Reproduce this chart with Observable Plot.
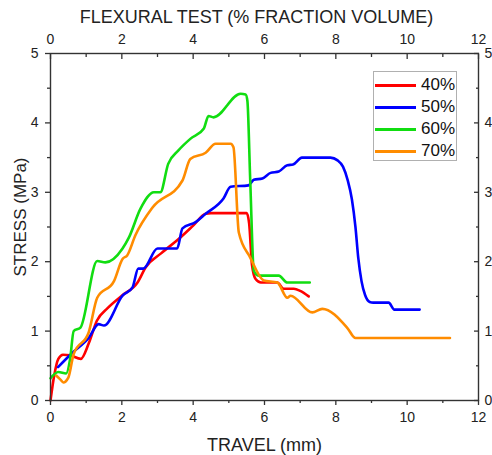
<!DOCTYPE html>
<html>
<head>
<meta charset="utf-8">
<script src="https://cdn.jsdelivr.net/npm/d3@7"></script>
<script src="https://cdn.jsdelivr.net/npm/@observablehq/plot@0.6"></script>
<style>
  html, body { margin: 0; padding: 0; background: #fff; }
  #wrap { position: relative; width: 492px; height: 455px; font-family: "Liberation Sans", Arial, sans-serif; }
  #legend { position: absolute; left: 373px; top: 71px; width: 84px; height: 90px; border: 1px solid #b0b0b0; background: #fff; box-sizing: border-box; }
  .row { position: absolute; left: 0; height: 22px; display: flex; align-items: center; font-size: 17px; color: #111; }
  .row .sw { width: 41px; height: 3px; margin-left: 1px; margin-right: 5px; }
</style>
</head>
<body>
<div id="wrap"><div id="legend"></div></div>
<script>
const seriesNames = ["40%", "50%", "60%", "70%"];
const seriesColors = ["#ff0000", "#0000ff", "#11dd11", "#ff8c00"];

const x40 = [0, 0.1, 0.22, 0.35, 0.55, 0.85, 1.07, 1.3, 1.6, 2.0, 2.44, 2.67, 3.1, 3.6, 4.0, 4.35, 4.5, 5.5, 5.57, 5.65, 5.75, 5.9, 6.36, 6.54, 6.82, 7.0, 7.24];
const y40 = [0, 0.35, 0.6, 0.66, 0.65, 0.6, 0.82, 1.15, 1.33, 1.51, 1.7, 1.92, 2.12, 2.33, 2.52, 2.69, 2.7, 2.7, 2.55, 1.95, 1.75, 1.7, 1.7, 1.61, 1.61, 1.58, 1.5];

const x50 = [0.21, 0.6, 1.07, 1.35, 1.5, 2.02, 2.3, 2.46, 2.6, 3.0, 3.55, 3.7, 4.07, 4.35, 4.85, 5.05, 5.55, 5.7, 5.94, 6.17, 6.4, 6.64, 6.8, 7.05, 7.85, 8.05, 8.2, 8.33, 8.45, 8.55, 8.63, 8.72, 8.82, 8.95, 9.05, 9.48, 9.64, 10.35];
const y50 = [0.48, 0.68, 0.9, 1.1, 1.08, 1.51, 1.63, 1.9, 1.9, 2.19, 2.19, 2.48, 2.57, 2.69, 2.91, 3.08, 3.1, 3.18, 3.2, 3.28, 3.3, 3.39, 3.4, 3.5, 3.5, 3.46, 3.37, 3.18, 2.9, 2.5, 2.05, 1.72, 1.52, 1.42, 1.41, 1.41, 1.31, 1.31];

const x60 = [0, 0.22, 0.44, 0.55, 0.65, 0.84, 1.31, 1.54, 2.02, 2.2, 2.52, 2.9, 3.08, 3.3, 3.58, 3.92, 4.3, 4.43, 4.57, 5.33, 5.47, 5.52, 5.6, 5.7, 5.83, 6.4, 6.64, 7.27];
const y60 = [0.32, 0.41, 0.39, 0.6, 1.0, 1.05, 2.01, 1.99, 2.19, 2.35, 2.76, 3.0, 3.0, 3.41, 3.6, 3.77, 3.92, 4.1, 4.08, 4.42, 4.41, 4.32, 3.17, 1.87, 1.8, 1.8, 1.7, 1.7];

const x70 = [0.16, 0.28, 0.36, 0.5, 0.65, 1.07, 1.31, 1.78, 2.02, 2.15, 2.38, 2.86, 3.7, 3.92, 4.35, 4.63, 5.05, 5.13, 5.28, 5.6, 5.98, 6.36, 6.64, 6.73, 7.34, 7.62, 8.33, 8.55, 11.2];
const y70 = [0.36, 0.3, 0.26, 0.33, 0.67, 0.98, 1.48, 1.72, 2.04, 2.09, 2.38, 2.78, 3.17, 3.48, 3.57, 3.7, 3.7, 3.65, 2.42, 2.06, 1.73, 1.7, 1.48, 1.51, 1.27, 1.32, 1.04, 0.9, 0.9];

const xMajor = [0, 2, 4, 6, 8, 10, 12];
const xMinor = [1, 3, 5, 7, 9, 11];
const yMajor = [0, 1, 2, 3, 4, 5];
const yMinor = [0.5, 1.5, 2.5, 3.5, 4.5];

const xs = [x40, x50, x60, x70];
const ys = [y40, y50, y60, y70];
const rows = xs.map((xa, i) => xa.map((x, j) => ({x, y: ys[i][j], s: seriesNames[i]})));

const ax = "#333";
const fmt = d => String(d);
const none = () => "";

const chart = Plot.plot({
  width: 492,
  height: 455,
  marginLeft: 50,
  marginRight: 14,
  marginTop: 53,
  marginBottom: 55,
  style: {fontFamily: "'Liberation Sans', Arial, sans-serif", fontSize: "14px", background: "#fff", color: "#222"},
  x: {domain: [0, 12], label: null},
  y: {domain: [0, 5], label: null},
  marks: [
    ...rows.map((r, i) => Plot.line(r, {x: "x", y: "y", stroke: seriesColors[i], strokeWidth: 2.6, curve: "monotone-x"})),
    Plot.frame({stroke: ax, strokeWidth: 1.4}),
    Plot.axisX({anchor: "bottom", ticks: xMajor, tickFormat: fmt, tickSize: 5, tickPadding: 7, fontSize: 14, stroke: ax, strokeWidth: 1.3, label: null}),
    Plot.axisX({anchor: "bottom", ticks: xMinor, tickFormat: none, tickSize: 3, stroke: ax, strokeWidth: 1.3, label: null}),
    Plot.axisX({anchor: "top", ticks: xMajor, tickFormat: fmt, tickSize: -5, tickPadding: 15, fontSize: 14, stroke: ax, strokeWidth: 1.3, label: null}),
    Plot.axisX({anchor: "top", ticks: xMinor, tickFormat: none, tickSize: -3, stroke: ax, strokeWidth: 1.3, label: null}),
    Plot.axisY({anchor: "left", ticks: yMajor, tickFormat: fmt, tickSize: 5, tickPadding: 7, fontSize: 14, stroke: ax, strokeWidth: 1.3, label: null}),
    Plot.axisY({anchor: "left", ticks: yMinor, tickFormat: none, tickSize: 3, stroke: ax, strokeWidth: 1.3, label: null}),
    Plot.axisY({anchor: "right", ticks: yMajor, tickFormat: fmt, tickSize: -5, tickPadding: 11, fontSize: 14, stroke: ax, strokeWidth: 1.3, label: null}),
    Plot.axisY({anchor: "right", ticks: yMinor, tickFormat: none, tickSize: -3, stroke: ax, strokeWidth: 1.3, label: null}),
    Plot.text(["FLEXURAL TEST (% FRACTION VOLUME)"], {frameAnchor: "top", textAnchor: "middle", lineAnchor: "middle", dx: -8, dy: -36, fontSize: 18, fill: "#222"}),
    Plot.text(["TRAVEL (mm)"], {frameAnchor: "bottom", textAnchor: "middle", lineAnchor: "middle", dy: 45, fontSize: 18, fill: "#222"}),
    Plot.text(["STRESS (MPa)"], {frameAnchor: "left", textAnchor: "middle", lineAnchor: "middle", dx: -30, dy: -10, rotate: -90, fontSize: 17, fill: "#222"})
  ]
});

const wrap = document.getElementById("wrap");
wrap.insertBefore(chart, wrap.firstChild);

const legend = document.getElementById("legend");
seriesNames.forEach((name, i) => {
  const row = document.createElement("div");
  row.className = "row";
  row.style.top = (2 + i * 22) + "px";
  const sw = document.createElement("span");
  sw.className = "sw";
  sw.style.background = seriesColors[i];
  const t = document.createElement("span");
  t.textContent = name;
  row.appendChild(sw);
  row.appendChild(t);
  legend.appendChild(row);
});
</script>
</body>
</html>
